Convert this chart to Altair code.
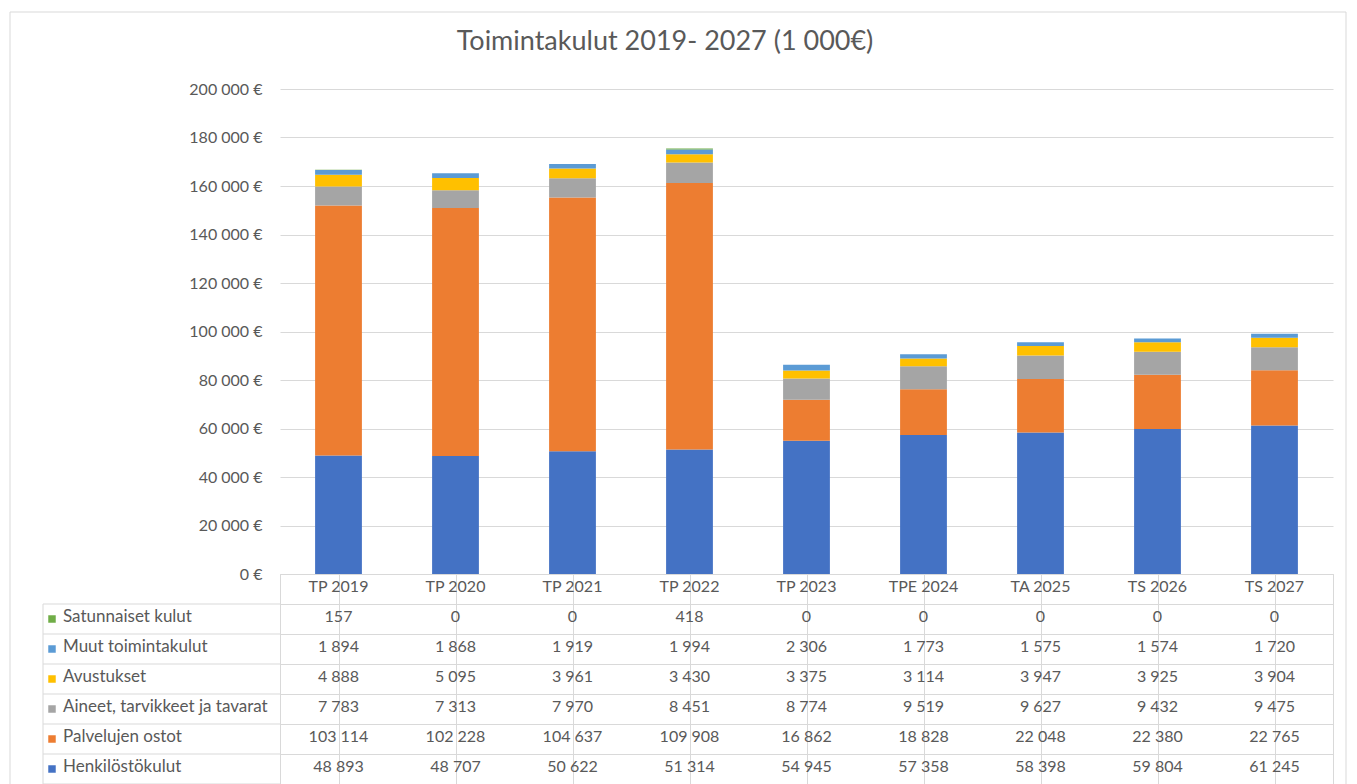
import altair as alt
import pandas as pd

categories = ["TP 2019", "TP 2020", "TP 2021", "TP 2022", "TP 2023", "TPE 2024", "TA 2025", "TS 2026", "TS 2027"]
series = ["Henkilöstökulut", "Palvelujen ostot", "Aineet, tarvikkeet ja tavarat",
          "Avustukset", "Muut toimintakulut", "Satunnaiset kulut"]
henkilosto = [48893, 48707, 50622, 51314, 54945, 57358, 58398, 59804, 61245]
palvelut = [103114, 102228, 104637, 109908, 16862, 18828, 22048, 22380, 22765]
aineet = [7783, 7313, 7970, 8451, 8774, 9519, 9627, 9432, 9475]
avustukset = [4888, 5095, 3961, 3430, 3375, 3114, 3947, 3925, 3904]
muut = [1894, 1868, 1919, 1994, 2306, 1773, 1575, 1574, 1720]
satunnaiset = [157, 0, 0, 418, 0, 0, 0, 0, 0]
colors = ["#4472C4", "#ED7D31", "#A5A5A5", "#FFC000", "#5B9BD5", "#70AD47"]
y_ticks = list(range(0, 200001, 20000))
title_text = "Toimintakulut 2019- 2027 (1 000€)"

FONT = "Lato"
TXT = "#595959"
GRID = "#D9D9D9"

values = [henkilosto, palvelut, aineet, avustukset, muut, satunnaiset]
recs = []
for si, (s, vals) in enumerate(zip(series, values)):
    for c, v in zip(categories, vals):
        recs.append({"category": c, "row": s, "value": v, "order": si,
                     "text": f"{v:,}".replace(",", " ")})
df = pd.DataFrame(recs)

head = pd.DataFrame({"category": categories, "row": "header", "text": categories})
table_df = pd.concat([df[["category", "row", "text"]], head], ignore_index=True)

table_rows = list(reversed(series))
ydomain = ["header"] + table_rows
rows_df = pd.DataFrame({"row": table_rows})
one = pd.DataFrame({"title": [title_text]})

W = 1053
H_TOP = 485
H_TAB = 210

bars = alt.Chart(df).mark_bar().encode(
    x=alt.X("category:N", sort=categories,
            scale=alt.Scale(domain=categories, paddingInner=0.6, paddingOuter=0.3),
            axis=None),
    y=alt.Y("value:Q", stack="zero",
            scale=alt.Scale(domain=[0, 200000], nice=False),
            axis=alt.Axis(values=y_ticks, title=None, ticks=False, domain=False,
                          labelExpr="replace(format(datum.value, ',d'), ',', ' ') + ' €'",
                          labelFont=FONT, labelFontSize=16, labelColor=TXT,
                          labelPadding=18, gridColor=GRID)),
    color=alt.Color("row:N", scale=alt.Scale(domain=series, range=colors), legend=None),
    order=alt.Order("order:Q"),
)

title = alt.Chart(one).mark_text(font=FONT, fontSize=27, color=TXT, align="center",
                                 baseline="middle").encode(
    x=alt.value(385), y=alt.value(-47), text="title:N"
)

top = alt.layer(bars, title).properties(width=W, height=H_TOP,
                                        view=alt.ViewBackground(strokeOpacity=0))

xs = alt.Scale(domain=categories, paddingInner=0, paddingOuter=0)
ys = alt.Scale(domain=ydomain, paddingInner=0, paddingOuter=0)

cells = alt.Chart(table_df).mark_text(font=FONT, fontSize=16, color=TXT, dy=-2).encode(
    x=alt.X("category:N", sort=categories, scale=xs,
            axis=alt.Axis(grid=True, bandPosition=0, labels=False, ticks=False,
                          domain=False, title=None, gridColor=GRID)),
    y=alt.Y("row:N", scale=ys,
            axis=alt.Axis(grid=True, bandPosition=0, labels=False, ticks=False,
                          domain=False, title=None, gridColor=GRID)),
    text="text:N",
)

row_labels = alt.Chart(rows_df).mark_text(font=FONT, fontSize=17, color=TXT, align="left",
                                          dy=-2).encode(
    x=alt.value(-217),
    y=alt.Y("row:N", scale=ys),
    text="row:N",
)

squares = alt.Chart(rows_df).mark_square(size=56, opacity=1).encode(
    x=alt.value(-228),
    y=alt.Y("row:N", scale=ys),
    color=alt.Color("row:N", scale=alt.Scale(domain=series, range=colors), legend=None),
)

hrules = alt.Chart(rows_df).mark_rule(color=GRID).encode(
    x=alt.value(-237), x2=alt.value(0),
    y=alt.Y("row:N", scale=ys, bandPosition=0),
)
bottom_rule = alt.Chart(one).mark_rule(color=GRID).encode(
    x=alt.value(-237), x2=alt.value(0), y=alt.value(H_TAB),
)
left_rule = alt.Chart(one).mark_rule(color=GRID).encode(
    x=alt.value(-237), y=alt.value(30), y2=alt.value(H_TAB),
)
frame = alt.Chart(one).mark_rect(filled=False, stroke=GRID, strokeWidth=1).encode(
    x=alt.value(-270), x2=alt.value(1066), y=alt.value(-562), y2=alt.value(212),
)

table = alt.layer(frame, hrules, bottom_rule, left_rule, cells, row_labels, squares).properties(
    width=W, height=H_TAB, view=alt.ViewBackground(stroke=GRID)
)

chart = alt.vconcat(top, table, spacing=0, bounds="flush").resolve_scale(
    x="independent", y="independent", color="shared"
).properties(
    padding={"left": 1, "top": 3, "right": 0, "bottom": 0},
).configure_view(strokeWidth=1)

chart.save("out.html", embed_options={"renderer": "svg", "actions": False})
